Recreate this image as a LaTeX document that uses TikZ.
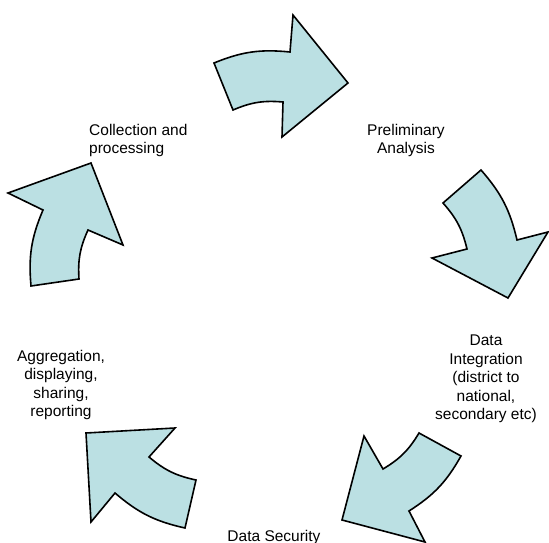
\documentclass[tikz,border=0pt]{standalone}
\usepackage{fontspec}
\setmainfont{Liberation Sans}
\definecolor{cyclefill}{RGB}{187,224,227}
\tikzset{font={\fontsize{15.5pt}{18.5pt}\selectfont}}
\tikzset{cyclearrow/.style={draw=black, line width=1.6pt, fill=cyclefill}}
\tikzset{stage/.style={inner sep=0pt, align=center, anchor=north}}

\begin{document}
\begin{tikzpicture}[x=1pt, y=-1pt]
      \useasboundingbox (0,0) rectangle (549,543);
      %top arrow
      \draw[cyclearrow] (214,63) to[bend left=14] (290,52) -- (293,15) -- (348,83)
        -- (282,137) -- (283,102) to[bend right=14] (233,110) -- cycle;
      %right arrow
      \draw[cyclearrow] (481,170) to[bend left=14] (517,240) -- (548,232) -- (508,298)
        -- (432,258) -- (467,249) to[bend right=14] (443,203) -- cycle;
      %lower right arrow
      \draw[cyclearrow] (461,456) to[bend left=14] (409,511) -- (425,542) -- (342,520)
        -- (364,436) -- (383,469) to[bend right=14] (419,433) -- cycle;
      %lower left arrow
      \draw[cyclearrow] (185,528) to[bend left=14] (115,493) -- (91,522) -- (86,433)
        -- (175,428) -- (149,457) to[bend right=14] (196,480) -- cycle;
      %left arrow
      \draw[cyclearrow] (31,286) to[bend left=14] (43,210) -- (8,193) -- (91,163)
        -- (123,245) -- (88,230) to[bend right=14] (79,279) -- cycle;
      %labels
      \node[stage, align=left, anchor=north west] (collect) at (89,124) {Collection and\\processing};
      \node[stage] (prelim) at (406,124) {Preliminary\\Analysis};
      \node[stage] (integr) at (486,335) {Data\\Integration\\(district to\\national,\\secondary etc)};
      \node[stage] (security) at (274,530) {Data Security};
      \node[stage] (aggreg) at (61,350) {Aggregation,\\displaying,\\sharing,\\reporting};
\end{tikzpicture}
\end{document}
